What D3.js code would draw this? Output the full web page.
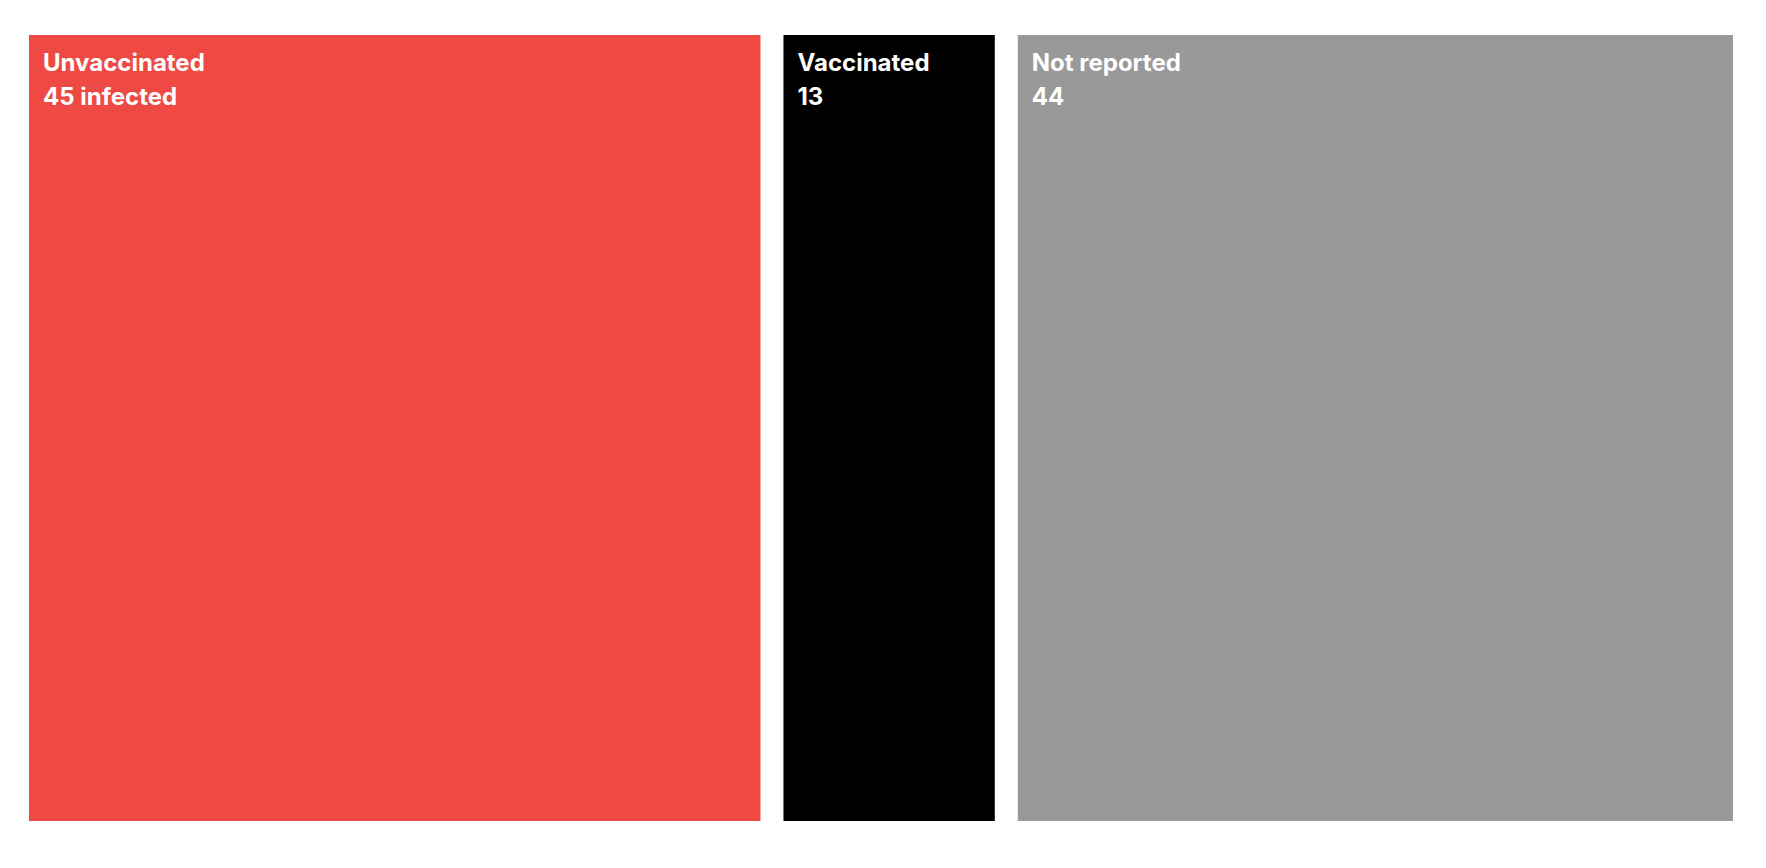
<!DOCTYPE html>
<html><head><meta charset="utf-8">
<script src="https://cdn.jsdelivr.net/npm/d3@7"></script>
<style>html,body{margin:0;padding:0;background:#fff;}svg{display:block;}</style>
</head><body>
<script>
const categories = ["Unvaccinated", "Vaccinated", "Not reported"];
const values = [45, 13, 44];
const valueLabels = ["45 infected", "13", "44"];
const colors = ["#EF4944", "#000000", "#999999"];

const W = 1766, H = 868;
const mLeft = 29, mRight = 1733, mTop = 35, mBottom = 821, gap = 23;
const svg = d3.select("body").append("svg").attr("width", W).attr("height", H);
const total = d3.sum(values);
const x = d3.scaleLinear().domain([0, total]).range([mLeft, mRight - gap * (values.length - 1)]);
const cum = d3.cumsum(values);
const data = categories.map((c, i) => ({c, v: values[i], label: valueLabels[i], color: colors[i], start: i ? cum[i-1] : 0, i}));

const g = svg.selectAll("g.cell").data(data).join("g").attr("class", "cell")
  .attr("transform", d => `translate(${x(d.start) + d.i * gap},${mTop})`);
g.append("rect").attr("width", d => x(d.v) - x(0)).attr("height", mBottom - mTop).attr("fill", d => d.color);
const font = "Inter, 'Liberation Sans', Arial, sans-serif";
g.append("text").attr("x", 14).attr("y", 36).attr("fill", "#fff")
  .style("font-family", font).style("font-weight", "700").style("font-size", "24px")
  .text(d => d.c);
g.append("text").attr("x", 14).attr("y", 69.5).attr("fill", "#fff")
  .style("font-family", font).style("font-weight", "700").style("font-size", "24px")
  .text(d => d.label);
</script>
</body></html>
